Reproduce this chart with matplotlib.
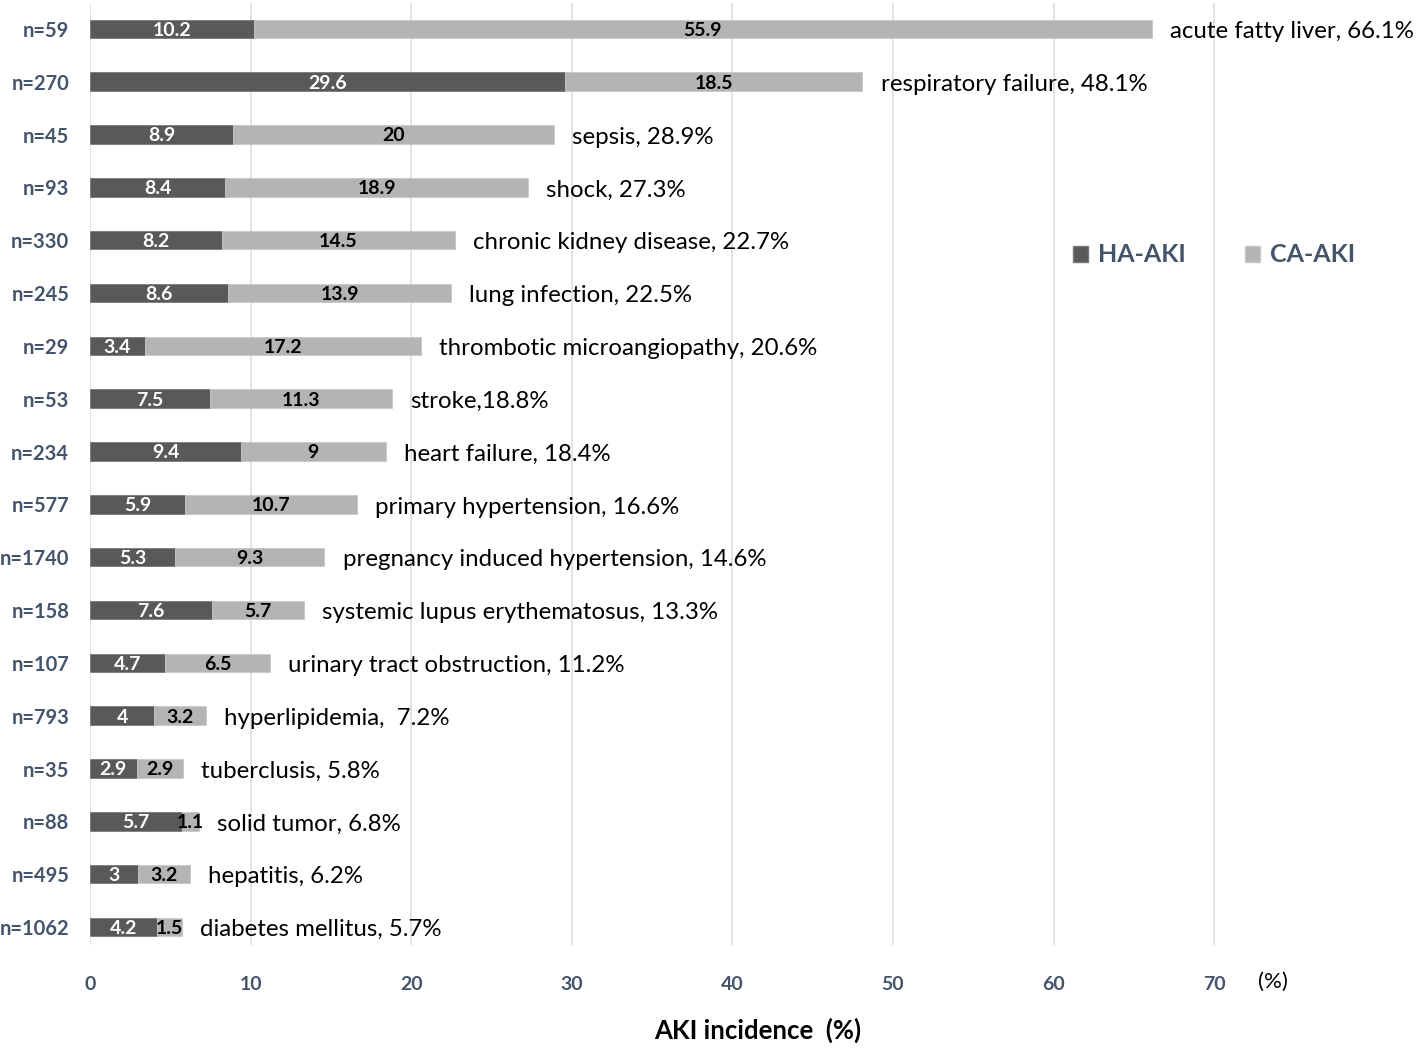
import matplotlib
matplotlib.use("Agg")
import matplotlib.pyplot as plt
from matplotlib.patches import Patch

plt.rcParams['font.family'] = ['Lato', 'DejaVu Sans']

categories = ["acute fatty liver, 66.1%", "respiratory failure, 48.1%", "sepsis, 28.9%",
              "shock, 27.3%", "chronic kidney disease, 22.7%", "lung infection, 22.5%",
              "thrombotic microangiopathy, 20.6%", "stroke,18.8%", "heart failure, 18.4%",
              "primary hypertension, 16.6%", "pregnancy induced hypertension, 14.6%",
              "systemic lupus erythematosus, 13.3%", "urinary tract obstruction, 11.2%",
              "hyperlipidemia,  7.2%", "tuberclusis, 5.8%", "solid tumor, 6.8%",
              "hepatitis, 6.2%", "diabetes mellitus, 5.7%"]
n_labels = ["n=59", "n=270", "n=45", "n=93", "n=330", "n=245", "n=29", "n=53", "n=234",
            "n=577", "n=1740", "n=158", "n=107", "n=793", "n=35", "n=88", "n=495", "n=1062"]
ha_aki = [10.2, 29.6, 8.9, 8.4, 8.2, 8.6, 3.4, 7.5, 9.4, 5.9, 5.3, 7.6, 4.7, 4, 2.9, 5.7, 3, 4.2]
ca_aki = [55.9, 18.5, 20, 18.9, 14.5, 13.9, 17.2, 11.3, 9, 10.7, 9.3, 5.7, 6.5, 3.2, 2.9, 1.1, 3.2, 1.5]
xticks = [0, 10, 20, 30, 40, 50, 60, 70]

dark = "#595959"
light = "#b4b4b4"
slate = "#44546a"

fig = plt.figure(figsize=(14.18, 10.49), dpi=100)
ax = fig.add_axes([90/1418, 1-945/1049, (82*16.06)/1418, 942/1049])

ypos = list(range(len(categories)))
h = 0.35
ax.barh(ypos, ha_aki, height=h, color=dark, edgecolor="#7a7a7a", linewidth=0.6, zorder=3)
ax.barh(ypos, ca_aki, left=ha_aki, height=h, color=light, edgecolor="#c8c8c8", linewidth=0.6, zorder=3)

for y, a, c, lab in zip(ypos, ha_aki, ca_aki, categories):
    ax.annotate(f"{a:g}", xy=(a/2, y), xytext=(0, -1), textcoords="offset points",
                ha="center", va="center", color="white",
                fontsize=14, fontweight="bold", zorder=4)
    ax.annotate(f"{c:g}", xy=(a + c/2, y), xytext=(0, -1), textcoords="offset points",
                ha="center", va="center", color="black",
                fontsize=14, fontweight="bold", zorder=4)
    ax.annotate(lab, xy=(a + c, y), xytext=(13, -2), textcoords="offset points",
                ha="left", va="center", fontsize=17.3, color="black")

ax.set_ylim(17.34, -0.49)
ax.set_xlim(0, 82)
ax.set_yticks(ypos)
ax.set_yticklabels(n_labels, fontsize=14.5, fontweight="bold", color=slate)
ax.set_xticks(xticks)
ax.set_xticklabels([str(t) for t in xticks], fontsize=14, fontweight="bold", color=slate)
ax.tick_params(axis="both", length=0)
ax.tick_params(axis="x", pad=22)
ax.tick_params(axis="y", pad=15)
for s in ax.spines.values():
    s.set_visible(False)
ax.grid(axis="x", color="#d9dfe8", linewidth=1.2, zorder=0)
ax.set_axisbelow(True)

fig.text(1258/1418, 1-982/1049, "(%)", fontsize=16, ha="left", va="center", color="black")
fig.text(758/1418, 1-1030/1049, "AKI incidence  (%)", fontsize=18.5, fontweight="bold",
         ha="center", va="center", color="black")

handles = [Patch(facecolor=dark, edgecolor="#7a7a7a"), Patch(facecolor=light, edgecolor="#c8c8c8")]
leg = fig.legend(handles, ["HA-AKI", "CA-AKI"], loc="center", bbox_to_anchor=(1214/1418, 1-255/1049),
                 ncol=2, frameon=False, handlelength=0.6, handleheight=0.6, handletextpad=0.4,
                 columnspacing=2.4, prop={"size": 18, "weight": "bold"})
for t in leg.get_texts():
    t.set_color(slate)

fig.savefig("out.png", dpi=100)
